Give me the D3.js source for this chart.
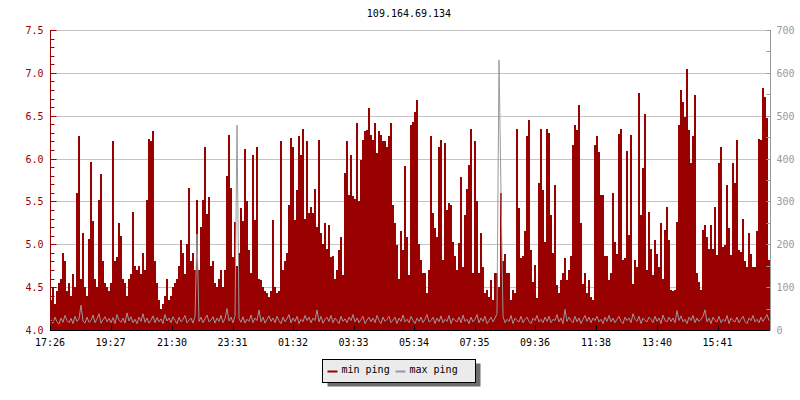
<!DOCTYPE html>
<html>
<head>
<meta charset="utf-8">
<script src="https://cdn.jsdelivr.net/npm/d3@7"></script>
<style>
  body { margin: 0; background: #fff; }
  svg { display: block; }
  text { font-family: "DejaVu Sans Mono", monospace; font-size: 10px; }
</style>
</head>
<body>
<svg id="chart" width="800" height="400"></svg>
<script>
// Ping chart for one host: min ping (left axis, ms) as a filled area, max ping (right axis, ms) as a line

var chartTitle = "109.164.69.134";
var seriesNames = ["min ping", "max ping"];

// samples every 4 minutes, starting 17:26
var startTime = new Date(2013, 0, 1, 17, 26);
var stepMinutes = 4;

// min ping (ms)
var minPing = [
  4.35,4.5,4.3,4.45,4.55,4.6,4.9,4.8,4.45,4.55, 4.4,4.65,4.5,5.6,6.26,4.6,5.13,4.5,4.4,5.06,
  5.96,5.27,4.6,4.5,5.52,5.82,4.8,4.55,4.5,4.45, 4.55,6.2,4.8,4.85,5.25,5.1,4.6,4.55,4.4,4.6,
  4.65,5.38,4.75,4.7,4.75,4.65,4.9,4.7,5.52,6.23, 6.2,6.32,4.8,4.55,4.35,4.25,4.3,4.4,4.6,4.35,
  4.4,4.5,4.55,4.6,4.75,5.05,4.9,4.65,5.0,5.66, 4.8,4.9,4.7,5.52,4.7,5.2,5.52,6.13,5.35,5.55,
  4.75,4.8,4.55,4.5,4.6,4.7,4.5,4.7,5.8,6.28,
  5.66,4.85,5.26,4.75,4.9,5.42,5.27,6.11,5.5,4.93, 4.66,6.04,5.28,6.13,4.6,4.58,4.5,4.45,4.43,4.39,
  4.45,5.28,4.5,4.43,4.45,6.21,4.7,4.8,4.9,5.46, 6.24,6.14,5.28,5.63,6.26,6.04,6.34,5.3,6.21,5.36,
  5.44,5.36,5.64,5.2,6.22,5.13,5.0,5.25,4.95,5.23, 4.85,4.86,4.6,4.7,4.93,5.09,4.64,5.83,6.21,5.58,
  6.04,5.56,5.53,6.41,5.5,5.98,6.22,6.32,6.33,6.59, 6.28,6.22,6.41,6.06,6.32,6.28,6.2,6.2,6.14,6.26,
  6.41,5.46,5.25,4.99,4.6,5.15,4.93,5.91,5.09,4.64,
  6.39,6.43,6.54,6.68,5.0,4.82,4.66,4.66,4.43,4.7, 6.26,5.36,5.19,5.09,6.14,6.22,4.82,6.18,5.4,5.48,
  5.46,5.03,4.86,4.7,5.01,5.79,4.74,5.34,5.65,5.93, 6.35,4.66,6.2,5.5,4.66,5.13,4.74,4.43,4.47,4.39,
  4.58,4.35,4.66,4.66,4.5,5.6,4.8,4.89,4.66,4.66, 4.35,4.47,4.43,6.35,5.42,4.84,4.86,5.15,6.26,6.45,
  4.93,4.56,4.76,4.37,5.71,6.35,5.63,5.03,6.35,6.3, 5.34,4.9,5.69,4.53,4.43,4.58,4.66,4.84,4.58,4.7,
  4.86,6.16,6.39,6.33,6.63,5.25,4.54,4.66,4.43,4.58,
  4.38,4.35,6.16,6.26,6.08,5.58,5.58,4.86,4.86,4.58, 4.66,5.6,5.03,4.89,6.29,6.35,4.82,4.84,6.09,5.11,
  6.28,4.54,4.82,4.74,6.77,5.34,5.89,6.52,4.7,5.38, 4.95,4.64,5.05,4.89,4.74,5.25,4.6,5.17,5.44,5.05,
  4.47,4.45,4.47,5.26,6.39,6.8,6.66,6.48,7.04,6.33, 5.95,6.26,6.74,4.66,4.56,4.47,5.17,5.23,5.09,4.95,
  5.23,4.95,5.44,4.88,5.95,6.13,4.97,4.99,5.69,5.19, 4.88,5.95,5.71,6.22,4.93,4.91,5.3,4.8,4.74,5.13,
  4.89,4.74,4.74,5.15,6.23,6.22,6.82,6.72,6.47,4.82
];

// max ping (ms)
var maxPing = [
  24,16,30,19,14,28,18,34,22,17, 27,15,32,20,26,58,21,16,30,18, 22,35,17,26,38,16,24,31,19,27,
  17,29,15,36,23,18,28,16,40,21, 31,17,25,15,30,20,38,18,28,16, 23,33,17,29,19,26,15,36,21,28,
  17,31,22,15,30,19,25,34,17,23, 28,16,32,224,20,30,17,26,35,19, 23,31,16,28,20,34,17,26,50,21,
  30,17,33,478,27,18,31,16,25,20, 35,17,28,22,47,19,30,16,25,33, 20,28,17,32,22,15,30,19,26,36,
  17,28,20,32,15,25,19,34,22,30, 17,28,22,47,19,32,16,25,30,20, 34,17,28,22,15,32,20,26,17,30,
  22,36,19,28,17,25,32,15,23,30, 19,28,17,34,22,15,30,20,25,32, 17,23,30,15,28,20,35,19,25,17,
  32,22,15,28,20,30,17,25,36,19, 22,30,15,28,19,33,17,25,20,34, 15,28,22,19,30,17,35,20,25,15,
  30,19,25,36,17,28,20,32,15,22, 30,19,28,38,630,322,32,17,25,20, 34,15,28,22,19,32,17,25,30,20,
  15,28,22,34,19,25,17,30,20,32, 17,25,22,36,19,28,15,48,20,30, 22,17,32,19,28,15,25,34,20,30,
  17,28,22,32,19,25,15,30,20,34, 19,28,17,25,32,20,15,30,22,28, 17,38,25,20,32,15,28,22,19,30,
  25,17,32,20,28,15,35,22,19,30, 20,28,17,45,22,33,19,25,15,30, 22,34,17,28,20,25,32,47,19,28,
  15,30,22,19,32,17,25,20,34,15, 28,22,19,30,17,25,32,20,15,28, 22,34,19,25,17,30,20,28,36,22
];

// axis ticks
var leftTicks = [4.0, 4.5, 5.0, 5.5, 6.0, 6.5, 7.0, 7.5];
var rightTicks = [0, 100, 200, 300, 400, 500, 600, 700];
var timeTicks = ["17:26", "19:27", "21:30", "23:31", "01:32", "03:33", "05:34", "07:35", "09:36", "11:38", "13:40", "15:41"];

// colours
var minColor = "#990000";
var maxColor = "#999999";
var gridColor = "#c4c4c4";

// plot box
var plot = {left: 50, right: 770, top: 30, bottom: 330};

var svg = d3.select("#chart");

var endTime = d3.timeMinute.offset(startTime, minPing.length * stepMinutes);

var x = d3.scaleTime().domain([startTime, endTime]).range([plot.left, plot.right]);
var yLeft = d3.scaleLinear().domain([4.0, 7.5]).range([plot.bottom, plot.top]);
var yRight = d3.scaleLinear().domain([0, 700]).range([plot.bottom, plot.top]);

// turn "HH:MM" into a date on the run (hours before 17:26 are the next day)
var tickDates = timeTicks.map(function(s) {
    var p = s.split(":");
    var d = new Date(startTime);
    d.setHours(+p[0], +p[1]);
    if (d < startTime) d = d3.timeDay.offset(d, 1);
    return d;
});

// ---- grid ----
svg.append("g")
    .selectAll("line")
    .data(leftTicks.slice(1))
    .enter().append("line")
    .attr("x1", plot.left).attr("x2", plot.right)
    .attr("y1", function(d) { return Math.round(yLeft(d)) + 0.5; })
    .attr("y2", function(d) { return Math.round(yLeft(d)) + 0.5; })
    .style("stroke", gridColor)
    .style("stroke-width", 1);

// ---- min ping area ----
var minData = minPing.map(function(v, i) { return {t: d3.timeMinute.offset(startTime, i * stepMinutes), v: v}; });
minData.push({t: endTime, v: minPing[minPing.length - 1]});

var area = d3.area()
    .curve(d3.curveStepAfter)
    .x(function(d) { return x(d.t); })
    .y0(yLeft(4.0))
    .y1(function(d) { return yLeft(d.v); });

svg.append("path")
    .datum(minData)
    .attr("d", area)
    .style("fill", minColor)
    .style("shape-rendering", "crispEdges");

// ---- max ping line ----
var maxData = maxPing.map(function(v, i) { return {t: d3.timeMinute.offset(startTime, i * stepMinutes + stepMinutes / 2), v: v}; });

var line = d3.line()
    .x(function(d) { return x(d.t); })
    .y(function(d) { return yRight(d.v); });

svg.append("path")
    .datum(maxData)
    .attr("d", line)
    .style("fill", "none")
    .style("stroke", maxColor)
    .style("stroke-width", 1);

// ---- left axis (min ping) ----
var leftAxis = svg.append("g").attr("transform", "translate(" + (plot.left + 0.5) + ",0)");
leftAxis.append("line")
    .attr("y1", plot.top).attr("y2", plot.bottom)
    .style("stroke", minColor);
leftAxis.selectAll(".minor")
    .data(d3.range(40, 76).map(function(d) { return d / 10; }))
    .enter().append("line")
    .attr("x1", 0)
    .attr("x2", function(d) { return Math.abs(d * 2 - Math.round(d * 2)) < 1e-6 ? 6 : 4; })
    .attr("y1", function(d) { return Math.round(yLeft(d)) + 0.5; })
    .attr("y2", function(d) { return Math.round(yLeft(d)) + 0.5; })
    .style("stroke", minColor);
leftAxis.selectAll("text")
    .data(leftTicks)
    .enter().append("text")
    .attr("x", -7)
    .attr("y", function(d) { return yLeft(d) + 4; })
    .attr("text-anchor", "end")
    .style("fill", minColor)
    .text(function(d) { return d.toFixed(1); });

// ---- right axis (max ping) ----
var rightAxis = svg.append("g").attr("transform", "translate(" + (plot.right + 0.5) + ",0)");
rightAxis.append("line")
    .attr("y1", plot.top).attr("y2", plot.bottom)
    .style("stroke", maxColor);
rightAxis.selectAll(".minor")
    .data(d3.range(0, 701, 50))
    .enter().append("line")
    .attr("x1", -4).attr("x2", 0)
    .attr("y1", function(d) { return Math.round(yRight(d)) + 0.5; })
    .attr("y2", function(d) { return Math.round(yRight(d)) + 0.5; })
    .style("stroke", maxColor);
rightAxis.selectAll("text")
    .data(rightTicks)
    .enter().append("text")
    .attr("x", 6)
    .attr("y", function(d) { return yRight(d) + 4; })
    .style("fill", maxColor)
    .text(function(d) { return d; });

// ---- time axis ----
var bottomAxis = svg.append("g").attr("transform", "translate(0," + (plot.bottom + 0.5) + ")");
bottomAxis.append("line")
    .attr("x1", plot.left).attr("x2", plot.right)
    .style("stroke", "#000");
bottomAxis.selectAll(".tick")
    .data(tickDates)
    .enter().append("line")
    .attr("x1", function(d) { return Math.round(x(d)) + 0.5; })
    .attr("x2", function(d) { return Math.round(x(d)) + 0.5; })
    .attr("y1", -5).attr("y2", 0)
    .style("stroke", "#000");
bottomAxis.selectAll("text")
    .data(tickDates)
    .enter().append("text")
    .attr("x", function(d) { return x(d); })
    .attr("y", 15)
    .attr("text-anchor", "middle")
    .style("fill", "#000")
    .text(function(d, i) { return timeTicks[i]; });

// ---- title ----
svg.append("text")
    .attr("x", 409)
    .attr("y", 17)
    .attr("text-anchor", "middle")
    .style("fill", "#000")
    .text(chartTitle);

// ---- legend ----
var legend = svg.append("g").attr("transform", "translate(322.5,359.5)");
legend.append("rect")
    .attr("x", 5).attr("y", 4)
    .attr("width", 153).attr("height", 23)
    .style("fill", "#6e6e6e");
legend.append("rect")
    .attr("width", 153).attr("height", 23)
    .style("fill", "#ebebeb")
    .style("stroke", "#000");

var legendX = [5, 73];
var legendColors = [minColor, maxColor];
seriesNames.forEach(function(name, i) {
    legend.append("line")
        .attr("x1", legendX[i]).attr("x2", legendX[i] + 10)
        .attr("y1", 12).attr("y2", 12)
        .style("stroke", legendColors[i])
        .style("stroke-width", 2);
    legend.append("text")
        .attr("x", legendX[i] + 14)
        .attr("y", 13.5)
        .style("fill", "#000")
        .text(name);
});
</script>
</body>
</html>
